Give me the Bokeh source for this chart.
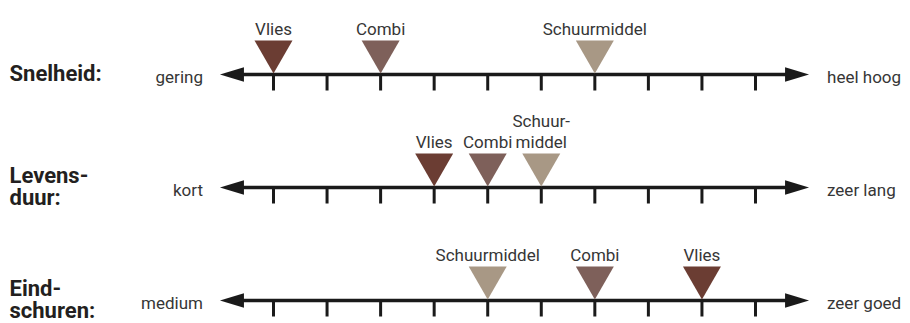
from bokeh.plotting import figure
from bokeh.models import Range1d, ColumnDataSource
from bokeh.core.properties import value
from bokeh.embed import file_html
from bokeh.resources import INLINE

# ---- data ----
categories = ["Snelheid:", "Levens-\nduur:", "Eind-\nschuren:"]
low_labels = ["gering", "kort", "medium"]
high_labels = ["heel hoog", "zeer lang", "zeer goed"]
products = ["Vlies", "Combi", "Schuurmiddel"]
vlies = [0, 3, 8]
combi = [2, 4, 6]
schuurmiddel = [6, 5, 4]
schuurmiddel_labels = ["Schuurmiddel", "Schuur-\nmiddel", "Schuurmiddel"]
ticks = list(range(10))
axis_min, axis_max = -1, 10

# ---- style / layout ----
colors = {"Vlies": "#6b3d33", "Combi": "#7e605a", "Schuurmiddel": "#a89885"}
W, H = 910, 323
PX_X = 482 / 9.0           # pixels per tick step
PX_Y = 113.0               # pixels per row
X_START = -273 / PX_X
X_END = X_START + W / PX_X
Y_TOP = -74 / PX_Y
Y_BOTTOM = Y_TOP + H / PX_Y
AXIS_COLOR = "#1a1a1a"
TEXT_COLOR = "#363636"
HEAD_L = 24 / PX_X
HEAD_W = 7.2 / PX_Y
TICK_L = 16 / PX_Y
TRI_SIZE = 38
TRI_CENTER = 23 / PX_Y
TXT_SHIFT = -6
FONT = value("Roboto")

p = figure(width=W, height=H, x_range=Range1d(X_START, X_END),
           y_range=Range1d(Y_BOTTOM, Y_TOP), min_border=0,
           toolbar_location=None, output_backend="svg",
           x_axis_type=None, y_axis_type=None)
p.grid.visible = False
p.outline_line_color = None
p.background_fill_color = "white"
p.border_fill_color = "white"

rows = list(range(len(categories)))

# axis lines
p.segment(x0=[axis_min + HEAD_L * 0.5] * len(rows), y0=rows,
          x1=[axis_max - HEAD_L * 0.5] * len(rows), y1=rows,
          line_color=AXIS_COLOR, line_width=3.5)
# arrow heads
xs, ys = [], []
for r in rows:
    xs.append([axis_min, axis_min + HEAD_L, axis_min + HEAD_L])
    ys.append([r, r - HEAD_W, r + HEAD_W])
    xs.append([axis_max, axis_max - HEAD_L, axis_max - HEAD_L])
    ys.append([r, r - HEAD_W, r + HEAD_W])
p.patches(xs=xs, ys=ys, fill_color=AXIS_COLOR, line_color=None)

# ticks
tx, ty0, ty1 = [], [], []
for r in rows:
    for t in ticks:
        tx.append(t); ty0.append(r); ty1.append(r + TICK_L)
p.segment(x0=tx, y0=ty0, x1=tx, y1=ty1, line_color=AXIS_COLOR,
          line_width=3, line_cap="butt")

# markers + labels
series = {"Vlies": (vlies, products[0:1] * 3),
          "Combi": (combi, products[1:2] * 3),
          "Schuurmiddel": (schuurmiddel, schuurmiddel_labels)}
lx, ly, lt, lo = [], [], [], []
for name, (vals, labs) in series.items():
    p.scatter(x=vals, y=[r - TRI_CENTER for r in rows], marker="inverted_triangle",
              size=TRI_SIZE, fill_color=colors[name], line_color=None)
    for r, v, lab in zip(rows, vals, labs):
        lines = lab.split("\n")
        n = len(lines)
        for k, ln in enumerate(lines):
            lx.append(v); ly.append(r); lt.append(ln)
            lo.append(-40 + TXT_SHIFT - (n - 1 - k) * 21)
p.text(x="x", y="y", text="t", y_offset="o",
       source=ColumnDataSource(dict(x=lx, y=ly, t=lt, o=lo)),
       text_align="center", text_baseline="alphabetic", text_font=FONT,
       text_font_size="17px", text_color=TEXT_COLOR)

# end labels
p.text(x=[axis_min] * len(rows), y=rows, text=low_labels, x_offset=-17,
       y_offset=8 + TXT_SHIFT,
       text_align="right", text_baseline="alphabetic", text_font=FONT,
       text_font_size="17px", text_color=TEXT_COLOR)
p.text(x=[axis_max] * len(rows), y=rows, text=high_labels, x_offset=18,
       y_offset=8 + TXT_SHIFT,
       text_align="left", text_baseline="alphabetic", text_font=FONT,
       text_font_size="17px", text_color=TEXT_COLOR)

# category labels
cx, cy, ct, co = [], [], [], []
for r, cat in zip(rows, categories):
    lines = cat.split("\n")
    n = len(lines)
    for k, ln in enumerate(lines):
        cx.append(X_START); cy.append(r); ct.append(ln)
        co.append(5 + TXT_SHIFT + (k - (n - 1) / 2.0) * 22)
p.text(x="x", y="y", text="t", y_offset="o", x_offset=9,
       source=ColumnDataSource(dict(x=cx, y=cy, t=ct, o=co)),
       text_align="left", text_baseline="alphabetic", text_font=FONT,
       text_font_style="bold", text_font_size="22px", text_color="#231f20")

open("out.html", "w").write(file_html(p, INLINE))
